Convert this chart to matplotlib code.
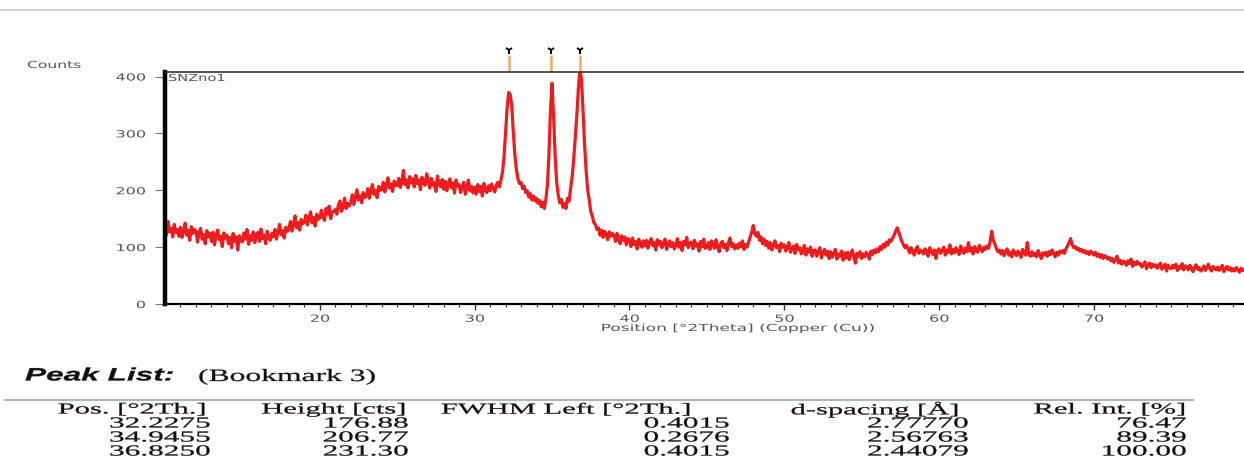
import numpy as np
import matplotlib
matplotlib.use('Agg')
import matplotlib.pyplot as plt
from matplotlib.lines import Line2D
from matplotlib.patheffects import AbstractPathEffect
from matplotlib.transforms import Affine2D

# Diffractogram SNZno1, counts (step 0.1 deg 2Theta)
counts_10s = [138, 122, 145, 127, 133, 118, 140, 126, 131, 119,
              135, 117, 129, 142, 121, 130, 112, 136, 124, 131,
              128, 109, 125, 133, 114, 122, 106, 129, 118, 124,
              110, 126, 104, 121, 130, 113, 119, 101, 125, 116,
              121, 106, 117, 99, 124, 110, 118, 95, 120, 112,
              109, 125, 114, 131, 105, 120, 112, 127, 108, 122,
              126, 110, 132, 115, 121, 106, 128, 117, 112, 124,
              118, 131, 114, 127, 140, 122, 129, 116, 135, 128,
              132, 145, 128, 140, 155, 134, 143, 130, 149, 141,
              144, 156, 139, 150, 162, 143, 152, 137, 158, 149]
counts_20s = [151, 165, 154, 147, 168, 158, 172, 150, 161, 163,
              166, 158, 174, 181, 163, 170, 186, 168, 177, 172,
              179, 192, 175, 188, 201, 183, 190, 178, 196, 187,
              190, 203, 186, 198, 210, 193, 199, 187, 207, 200,
              201, 214, 197, 209, 222, 204, 211, 198, 216, 210,
              208, 221, 205, 215, 235, 210, 218, 204, 224, 213,
              220, 206, 226, 212, 218, 201, 223, 214, 209, 229,
              217, 204, 221, 209, 214, 198, 225, 211, 206, 219,
              202, 216, 199, 211, 220, 204, 213, 195, 218, 207,
              210, 196, 206, 214, 193, 204, 218, 199, 207, 195]
counts_30s = [205, 193, 210, 198, 207, 190, 212, 201, 196, 208,
              199, 211, 203, 197, 209, 214, 206, 218, 232, 258,
              300, 345, 372, 368, 348, 302, 262, 236, 220, 212,
              214, 203, 207, 196, 199, 188, 194, 183, 190, 181,
              186, 177, 182, 171, 179, 168, 184, 208, 262, 340,
              388, 332, 262, 214, 192, 178, 184, 170, 177, 168,
              186, 181, 202, 224, 254, 292, 330, 378, 412, 396,
              342, 282, 236, 201, 184, 163, 155, 143, 140, 131,
              134, 121, 130, 117, 128, 122, 113, 127, 119, 124,
              121, 110, 124, 114, 106, 120, 112, 118, 104, 115]
counts_40s = [113, 101, 116, 105, 110, 97, 114, 106, 100, 111,
              102, 112, 98, 109, 115, 103, 108, 95, 113, 104,
              110, 99, 107, 114, 96, 105, 111, 101, 108, 97,
              103, 115, 100, 108, 94, 110, 104, 117, 99, 106,
              109, 97, 112, 102, 106, 93, 110, 101, 114, 98,
              100, 108, 96, 111, 103, 98, 113, 100, 92, 107,
              110, 99, 105, 94, 108, 116, 101, 106, 97, 104,
              98, 107, 101, 111, 96, 105, 100, 109, 118, 126,
              138, 124, 119, 126, 112, 118, 106, 114, 103, 110,
              98, 108, 95, 104, 111, 99, 103, 92, 107, 100]
counts_50s = [104, 93, 100, 108, 91, 97, 102, 89, 105, 96,
              99, 88, 95, 103, 86, 97, 91, 100, 84, 94,
              95, 84, 92, 99, 81, 90, 96, 86, 93, 80,
              92, 82, 89, 96, 79, 88, 84, 93, 77, 90,
              81, 91, 78, 87, 95, 83, 72, 89, 84, 92,
              80, 88, 83, 91, 86, 79, 93, 87, 95, 90,
              97, 92, 101, 96, 105, 100, 109, 104, 113, 110,
              116, 121, 128, 134, 126, 118, 110, 104, 99, 103,
              97, 90, 99, 93, 86, 96, 101, 89, 95, 92,
              88, 97, 91, 84, 99, 93, 87, 95, 80, 94]
counts_60s = [97, 89, 94, 100, 86, 95, 91, 104, 88, 96,
              90, 99, 93, 87, 102, 95, 89, 98, 92, 108,
              93, 99, 88, 101, 95, 91, 103, 97, 92, 100,
              96, 102, 98, 110, 128, 112, 106, 98, 92, 95,
              88, 94, 85, 92, 97, 86, 91, 83, 95, 89,
              85, 93, 88, 82, 96, 90, 86, 108, 87, 84,
              92, 85, 89, 83, 94, 87, 80, 90, 86, 91,
              84, 92, 87, 95, 89, 83, 91, 86, 93, 90,
              94, 89, 97, 102, 108, 115, 104, 99, 101, 96,
              98, 93, 96, 91, 94, 89, 92, 87, 93, 90]
counts_70s = [86, 91, 84, 88, 82, 87, 80, 85, 83, 79,
              82, 76, 80, 73, 78, 84, 72, 77, 70, 75,
              74, 68, 76, 71, 79, 66, 73, 69, 75, 70,
              71, 65, 69, 74, 62, 68, 72, 64, 70, 66,
              69, 63, 67, 72, 61, 66, 70, 58, 68, 64,
              62, 68, 64, 70, 59, 66, 63, 71, 60, 67,
              66, 60, 68, 62, 57, 65, 69, 61, 64, 58,
              61, 67, 59, 64, 70, 62, 58, 66, 63, 60,
              65, 59, 63, 68, 57, 61, 66, 60, 64, 58,
              62, 58, 64, 60, 56, 63, 59, 61, 57, 62]

# Peak list
peak_pos = [32.2275, 34.9455, 36.8250]
peak_height = [176.88, 206.77, 231.30]
peak_fwhm = [0.4015, 0.2676, 0.4015]
peak_d = [2.77770, 2.56763, 2.44079]
peak_rel = [76.47, 89.39, 100.00]

counts = np.array(counts_10s + counts_20s + counts_30s + counts_40s
                  + counts_50s + counts_60s + counts_70s, dtype=float)
two_theta = np.round(10.0 + 0.1 * np.arange(len(counts)), 1)


class Widen(AbstractPathEffect):
    # the source picture is stretched sideways, so widen the glyphs too
    def __init__(self, sx, anchor='left', lw=0.0):
        super().__init__()
        self.sx = sx
        self.anchor = anchor
        self.lw = lw

    def draw_path(self, renderer, gc, tpath, affine, rgbFace=None):
        if len(tpath.vertices) == 0:
            return
        pts = affine.transform(tpath.vertices)
        x0, x1 = pts[:, 0].min(), pts[:, 0].max()
        px = {'left': x0, 'center': (x0 + x1) / 2, 'right': x1}[self.anchor]
        t = affine + Affine2D().translate(-px, 0).scale(self.sx, 1).translate(px, 0)
        if self.lw and rgbFace is not None:
            gc0 = renderer.new_gc()
            gc0.copy_properties(gc)
            gc0.set_linewidth(self.lw)
            gc0.set_foreground(rgbFace)
            renderer.draw_path(gc0, tpath, t, rgbFace)
            gc0.restore()
        else:
            renderer.draw_path(gc, tpath, t, rgbFace)


W, H = 1244, 459
fig = plt.figure(figsize=(W / 100, H / 100), dpi=100)


def fx(px):
    return px / W


def fy(py):
    return 1 - py / H


ax = fig.add_axes([fx(165), fy(304), fx(1244) - fx(165), fy(72) - fy(304)])
ax.plot(two_theta, counts, color='#ee1c1c', lw=2.3)
ax.set_xlim(10, 79.7)
ax.set_ylim(0, 408)

ax.spines['right'].set_visible(False)
ax.spines['left'].set_linewidth(3.2)
ax.spines['left'].set_color('black')
ax.spines['bottom'].set_linewidth(1.6)
ax.spines['top'].set_linewidth(1.2)
ax.spines['top'].set_color('#333333')

ax.set_yticks([0, 100, 200, 300, 400])
ax.set_xticks([20, 30, 40, 50, 60, 70])
ax.set_xticks(np.arange(11, 80), minor=True)
ax.tick_params(axis='y', direction='out', length=7.5, width=0.8, color='#777777',
               labelsize=7, labelcolor='#555555', pad=6.5)
ax.tick_params(axis='x', which='major', direction='out', length=4.5, width=1.0,
               color='#333333', labelsize=7, labelcolor='#555555', pad=2.5)
ax.tick_params(axis='x', which='minor', direction='out', length=2.5, width=0.8,
               color='#333333')
for lbl in ax.get_yticklabels():
    lbl.set_path_effects([Widen(1.65, 'right')])
for lbl in ax.get_xticklabels():
    lbl.set_path_effects([Widen(1.65, 'center')])

# peak markers above the frame
for p in peak_pos:
    ax.plot([p, p], [408, 438], color='#eeaa5e', lw=1.8, clip_on=False,
            solid_capstyle='butt')
    ax.plot([p], [446], marker='1', color='black', ms=6, mew=1.4, clip_on=False)

chart_txt = dict(family='DejaVu Sans', color='#555555', fontsize=7)
fig.text(fx(27), fy(65), 'Counts', ha='left', va='center', **chart_txt,
         path_effects=[Widen(1.6, 'left')])
fig.text(fx(168), fy(73), 'SNZno1', ha='left', va='top', **chart_txt,
         path_effects=[Widen(1.5, 'left')])
fig.text(fx(738), fy(328), 'Position [°2Theta] (Copper (Cu))', ha='center',
         va='center', **chart_txt, path_effects=[Widen(1.75, 'center')])

# thin frame line at the very top
fig.add_artist(Line2D([0, 1], [fy(10), fy(10)], color='#cccccc', lw=1.2))

# peak list table
fig.text(fx(25), fy(376), 'Peak List:', family='Liberation Sans', weight='bold',
         style='italic', fontsize=13, ha='left', va='center', color='#111111',
         path_effects=[Widen(1.75, 'left', 0.2)])
fig.text(fx(198), fy(377), '(Bookmark 3)', family='Liberation Serif', fontsize=12.5,
         ha='left', va='center', color='#111111',
         path_effects=[Widen(1.82, 'left', 0.2)])
fig.add_artist(Line2D([fx(5), fx(1193)], [fy(400), fy(400)], color='#9cc39c', lw=1.4))

tab = dict(family='Liberation Serif', fontsize=11, color='#111111', va='center')
headers = ['Pos. [°2Th.]', 'Height [cts]', 'FWHM Left [°2Th.]', 'd-spacing [Å]',
           'Rel. Int. [%]']
head_right = [205, 405, 690, 958, 1185]
col_right = [210, 408, 729, 968, 1186]
for h, r in zip(headers, head_right):
    fig.text(fx(r), fy(410), h, ha='right', **tab,
             path_effects=[Widen(2.0, 'right', 0.2)])

row_y = [424, 438, 452]
for i in range(len(peak_pos)):
    vals = [f'{peak_pos[i]:.4f}', f'{peak_height[i]:.2f}', f'{peak_fwhm[i]:.4f}',
            f'{peak_d[i]:.5f}', f'{peak_rel[i]:.2f}']
    for v, r in zip(vals, col_right):
        fig.text(fx(r), fy(row_y[i]), v, ha='right', **tab,
                 path_effects=[Widen(2.05, 'right', 0.2)])

fig.savefig('out.png', dpi=100)
